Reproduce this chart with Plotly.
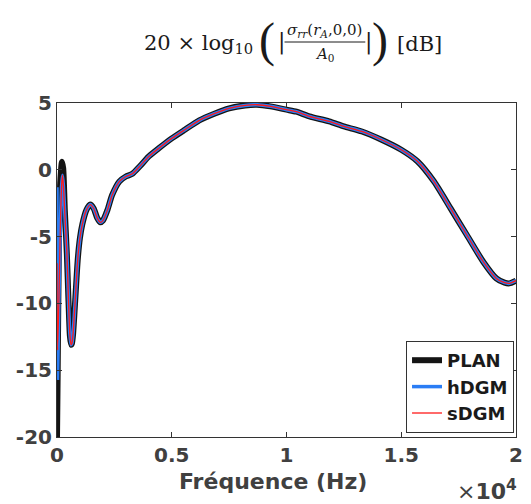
import plotly.graph_objects as go

# low-frequency part, where the three solutions differ
freq_plan_low = [0, 30, 80, 140, 215, 270, 340, 429, 500, 560]
db_plan_low = [-20, -15, -6, -1, 0.6, 0.1, -3, -6.3, -9.8, -12.4]

freq_dgm_low = [0, 25, 80, 150, 200, 240, 280, 350, 429, 500, 560]
db_hdgm_low = [-1.3, -15.6, -10, -4, -1.2, -0.4, -1.2, -3.6, -6.1, -9.75, -12.3]
db_sdgm_low = [-7, -13.5, -10, -4, -1.2, -0.4, -1.2, -3.6, -6.1, -9.75, -12.3]

# part of the curve shared by all three
freq_main = [613, 650, 700, 800, 900, 1000, 1100, 1285, 1450, 1600, 1750, 1886, 2000,
             2200, 2400, 2713, 3000, 3283, 3600, 4000, 4428, 5000, 5571, 6200, 6857,
             7500, 8200, 8714, 9300, 10000, 10429, 11000, 11857, 12500, 13286, 14143,
             15000, 15714, 16428, 17143, 17857, 18571, 19143, 19500, 19714, 20000]
db_main = [-13.1, -13.0, -12.3, -9.6, -6.8, -5.1, -4.1, -3.0, -2.6, -2.9, -3.6, -3.93, -3.8,
           -3.0, -1.9, -0.88, -0.5, -0.3, 0.25, 1.0, 1.6, 2.35, 3.0, 3.7, 4.2,
           4.6, 4.82, 4.87, 4.75, 4.5, 4.35, 4.0, 3.62, 3.25, 2.87, 2.25,
           1.5, 0.62, -0.88, -2.87, -4.88, -6.88, -8.13, -8.45, -8.5, -8.3]

x_tickvals = [0, 5000, 10000, 15000, 20000]
x_ticktext = ['0', '0.5', '1', '1.5', '2']
y_tickvals = [-20, -15, -10, -5, 0, 5]
y_ticktext = ['-20', '-15', '-10', '-5', '0', '5']

W, H = 531, 504
PL, PR, PT, PB = 57, 523, 103, 437


def px(x):
    return (x - PL) / (PR - PL)


def py(y):
    return (PB - y) / (PB - PT)


fig = go.Figure()
fig.add_trace(go.Scatter(x=freq_plan_low + freq_main, y=db_plan_low + db_main, name='PLAN',
                         mode='lines', line=dict(color='#141414', width=6, shape='spline',
                                                 smoothing=0.6)))
fig.add_trace(go.Scatter(x=freq_dgm_low + freq_main, y=db_hdgm_low + db_main, name='hDGM',
                         mode='lines', line=dict(color='#2a7df5', width=3.5, shape='spline',
                                                 smoothing=0.6)))
fig.add_trace(go.Scatter(x=freq_dgm_low + freq_main, y=db_sdgm_low + db_main, name='sDGM',
                         mode='lines', line=dict(color='#ff1a1a', width=1.3, shape='spline',
                                                 smoothing=0.6)))

tick_font = dict(family='DejaVu Sans', size=20, color='#404040', weight='bold')
axis_common = dict(showgrid=False, zeroline=False, showline=True, linecolor='#333333',
                   linewidth=1, mirror='ticks', ticks='inside', ticklen=5,
                   tickcolor='#333333', tickfont=tick_font)

fig.update_xaxes(range=[0, 20000], tickvals=x_tickvals, ticktext=x_ticktext, **axis_common)
fig.update_yaxes(range=[-20, 5], tickvals=y_tickvals, ticktext=y_ticktext, **axis_common)

serif = 'DejaVu Serif'
ann = []


def add_text(text, x, y, size, xanchor='center', family=serif, color='#1a1a1a', weight='normal'):
    ann.append(dict(text=text, x=px(x), y=py(y), xref='paper', yref='paper', showarrow=False,
                    xanchor=xanchor, yanchor='middle',
                    font=dict(family=family, size=size, color=color, weight=weight)))


# title: 20 x log10(|sigma_rr(r_A,0,0)/A0|) [dB]
add_text('20 × log<sub>10</sub>', 258, 44, 21, xanchor='right')
add_text('(', 270, 40, 48, family='Liberation Serif')
add_text('|', 285, 42, 22)
add_text('<i>σ<sub>rr</sub></i>(<i>r<sub>A</sub></i>,0,0)', 329, 30, 15)
add_text('<i>A</i><sub>0</sub>', 329, 55, 15)
add_text('|', 373, 42, 22)
add_text(')', 385, 40, 48, family='Liberation Serif')
add_text('[dB]', 400, 44, 21, xanchor='left')

# axis label and exponent
add_text('Fréquence (Hz)', 276, 481, 22, family='DejaVu Sans', color='#404040', weight='bold')
add_text('×<b>10<sup>4</sup></b>', 526, 490, 22, xanchor='right', family='DejaVu Sans',
         color='#404040')

fig.update_layout(
    width=W, height=H,
    margin=dict(l=PL, r=W - PR, t=PT, b=H - PB),
    plot_bgcolor='white', paper_bgcolor='white',
    annotations=ann,
    shapes=[dict(type='line', xref='paper', yref='paper', x0=px(288), x1=px(370),
                 y0=py(42), y1=py(42), line=dict(color='#1a1a1a', width=1))],
    legend=dict(x=px(521), y=py(433), xanchor='right', yanchor='bottom',
                bgcolor='white', bordercolor='#333333', borderwidth=1,
                font=dict(family='DejaVu Sans', size=18, color='#1a1a1a', weight='bold'),
                itemwidth=30, tracegroupgap=0),
    showlegend=True,
)

fig.write_html('out.html', config={'displayModeBar': False},
               post_script="document.body.style.margin='0';")
